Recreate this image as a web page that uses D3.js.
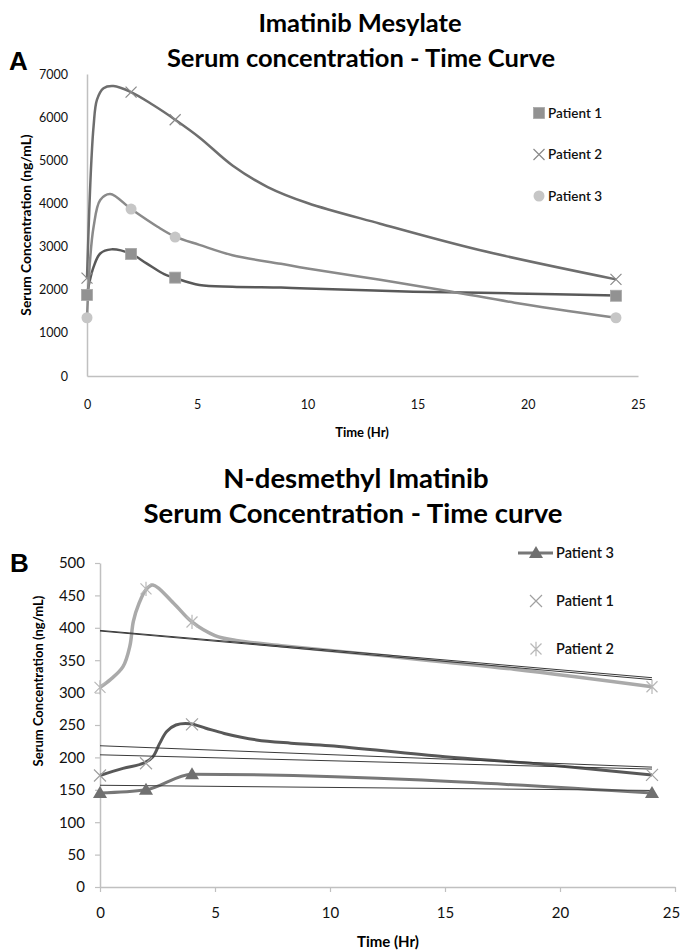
<!DOCTYPE html>
<html>
<head>
<meta charset="utf-8">
<script src="https://d3js.org/d3.v7.min.js"></script>
<style>
body { margin: 0; background: #fff; }
text { font-family: Lato, "Open Sans", sans-serif; }
</style>
</head>
<body>
<div id="chart-area"></div>
<script>
// sampling times (hr) of the measured points
var times = [0, 2, 4, 24];

// panel A - imatinib mesylate (ng/mL), measured points
var imaNames = ["Patient 1", "Patient 2", "Patient 3"];
var imaP1 = [1880, 2830, 2280, 1860];
var imaP2 = [2270, 6580, 5940, 2240];
var imaP3 = [1350, 3870, 3220, 1350];
// fitted curves of panel A
var imaFitT1 = [0, 0.1, 0.3, 0.6, 1.1, 2, 2.7, 3.5, 4, 5.1, 6.6, 8.8, 10, 14.8, 19.4, 24];
var imaFit1 = [1880, 2150, 2530, 2840, 2935, 2830, 2610, 2360, 2270, 2110, 2070, 2050, 2030, 1955, 1915, 1865];
var imaFitT2 = [0, 0.1, 0.2, 0.3, 0.45, 0.75, 1.2, 2, 3, 4, 5.1, 6.6, 8.2, 10, 13.3, 17.8, 24];
var imaFit2 = [2270, 3800, 5000, 5800, 6400, 6670, 6720, 6580, 6280, 5940, 5530, 4880, 4380, 4010, 3530, 2920, 2240];
var imaFitT3 = [0, 0.14, 0.3, 0.6, 1.05, 2, 3.2, 4, 5.1, 6.6, 8.8, 10, 13.3, 16.5, 19.4, 24];
var imaFit3 = [1350, 2690, 3460, 4080, 4220, 3870, 3460, 3230, 3040, 2800, 2600, 2490, 2230, 1960, 1700, 1350];
var imaYTicks = [0, 1000, 2000, 3000, 4000, 5000, 6000, 7000];

// panel B - N-desmethyl imatinib (ng/mL), measured points
var desNames = ["Patient 3", "Patient 1", "Patient 2"];
var desP3 = [145, 150, 174, 145];
var desP1 = [172, 191, 251, 173];
var desP2 = [308, 460, 409, 309];
// fitted curves of panel B
var desFitT1 = [0, 1, 1.9, 2.3, 2.6, 2.9, 3.3, 3.9, 4.6, 5.4, 6.8, 8.3, 10, 15, 19, 24];
var desFit1 = [172, 183, 191, 201, 222, 240, 250, 252, 245, 237, 227, 222, 218, 201, 190, 173];
var desFitT2 = [0, 0.45, 1, 1.3, 1.45, 1.7, 2, 2.3, 3.2, 4, 5, 6, 8, 12, 18, 24];
var desFit2 = [308, 320, 340, 372, 410, 438, 459, 466, 438, 409, 388, 380, 372, 358, 336, 309];
var desYTicks = [0, 50, 100, 150, 200, 250, 300, 350, 400, 450, 500];
// thin trend lines, value at t=0 and t=24
var trendTimes = [0, 24];
var trendTop1 = [396, 323];
var trendTop2 = [395, 320];
var trendMid1 = [218, 185];
var trendMid2 = [204, 182];
var trendLow = [157, 149];

var xTicks = [0, 5, 10, 15, 20, 25];

var svg = d3.select("#chart-area").append("svg")
	.attr("width", 682)
	.attr("height", 952);

var axisCol = "#c0c0c0";

// marker shapes
function crossPath(s) {
	return "M" + (-s) + "," + (-s) + "L" + s + "," + s + "M" + (-s) + "," + s + "L" + s + "," + (-s);
}
function starPath(s) {
	return crossPath(s) + "M0," + (-s * 1.3) + "L0," + (s * 1.3);
}
function pairs(ts, vals) {
	return ts.map((t, i) => { return {t: t, v: vals[i]}; });
}

// ---------------- panel A ----------------
var xA = d3.scaleLinear().domain([0, 25]).range([87, 638]);
var yA = d3.scaleLinear().domain([0, 7000]).range([376, 74]);

svg.append("text").attr("x", 360).attr("y", 32).attr("text-anchor", "middle")
	.attr("font-size", "25.5px").attr("font-weight", "bold").text("Imatinib Mesylate");
svg.append("text").attr("x", 361).attr("y", 67).attr("text-anchor", "middle")
	.attr("font-size", "25.5px").attr("font-weight", "bold").text("Serum concentration - Time Curve");
svg.append("text").attr("x", 9).attr("y", 70)
	.style("font-family", "'Liberation Sans', Arial, sans-serif")
	.attr("font-size", "26px").attr("font-weight", "bold").text("A");

var gA = svg.append("g");
var axA = gA.append("g").attr("transform", "translate(0,376)")
	.call(d3.axisBottom(xA).tickValues(xTicks).tickSize(0).tickPadding(24));
var ayA = gA.append("g").attr("transform", "translate(87,0)")
	.call(d3.axisLeft(yA).tickValues(imaYTicks).tickFormat(d3.format("d")).tickSize(0).tickPadding(19));
[axA, ayA].forEach((a) => {
	a.select(".domain").attr("stroke", axisCol).attr("stroke-width", 1.5);
	a.selectAll("text").attr("font-size", "12.5px").attr("fill", "#111")
		.style("font-family", "Lato, sans-serif");
});

gA.append("text").attr("x", 362).attr("y", 437).attr("text-anchor", "middle")
	.attr("font-size", "13px").attr("font-weight", "bold").text("Time (Hr)");
gA.append("text").attr("transform", "translate(31,225) rotate(-90)").attr("text-anchor", "middle")
	.attr("font-size", "13.8px").attr("font-weight", "bold").text("Serum Concentration (ng/mL)");

var lineA = d3.line().x((d) => xA(d.t)).y((d) => yA(d.v)).curve(d3.curveCatmullRom.alpha(0.5));

var seriesA = [
	{vals: imaP1, ft: imaFitT1, fv: imaFit1, line: "#595959", mark: "#929292", shape: "square"},
	{vals: imaP2, ft: imaFitT2, fv: imaFit2, line: "#6e6e6e", mark: "#8a8a8a", shape: "cross"},
	{vals: imaP3, ft: imaFitT3, fv: imaFit3, line: "#8a8a8a", mark: "#c6c6c6", shape: "circle"}
];

seriesA.forEach((s) => {
	gA.append("path").datum(pairs(s.ft, s.fv))
		.attr("d", lineA).attr("fill", "none")
		.attr("stroke", s.line).attr("stroke-width", 2.5);
});
function drawMarkA(g, s, x, y) {
	if (s.shape == "square") {
		g.append("rect").attr("x", x - 5.5).attr("y", y - 5.5).attr("width", 11).attr("height", 11)
			.attr("fill", s.mark).attr("stroke", "#a8a8a8").attr("stroke-width", 0.8);
	} else if (s.shape == "circle") {
		g.append("circle").attr("cx", x).attr("cy", y).attr("r", 5.5).attr("fill", s.mark);
	} else {
		g.append("path").attr("transform", "translate(" + x + "," + y + ")")
			.attr("d", crossPath(5.5)).attr("stroke", s.mark).attr("stroke-width", 1.2).attr("fill", "none");
	}
}
seriesA.forEach((s) => {
	pairs(times, s.vals).forEach((d) => { drawMarkA(gA, s, xA(d.t), yA(d.v)); });
});
// legend A
imaNames.forEach((n, i) => {
	var ly = 113 + i * 41.5;
	drawMarkA(gA, seriesA[i], 539, ly);
	gA.append("text").attr("x", 548).attr("y", ly + 4.5)
		.attr("font-size", "13.5px").attr("font-weight", "600").attr("fill", "#111").text(n);
});

// ---------------- panel B ----------------
var xB = d3.scaleLinear().domain([0, 25]).range([100, 675]);
var yB = d3.scaleLinear().domain([0, 500]).range([887, 563]);

svg.append("text").attr("x", 356).attr("y", 488).attr("text-anchor", "middle")
	.attr("font-size", "27.5px").attr("font-weight", "bold").text("N-desmethyl Imatinib");
svg.append("text").attr("x", 353).attr("y", 523).attr("text-anchor", "middle")
	.attr("font-size", "27.5px").attr("font-weight", "bold").text("Serum Concentration - Time curve");
svg.append("text").attr("x", 10).attr("y", 572)
	.style("font-family", "'Liberation Sans', Arial, sans-serif")
	.attr("font-size", "26px").attr("font-weight", "bold").text("B");

var gB = svg.append("g");
var axB = gB.append("g").attr("transform", "translate(0,887)")
	.call(d3.axisBottom(xB).tickValues(xTicks).tickSizeInner(5).tickSizeOuter(0).tickPadding(15));
var ayB = gB.append("g").attr("transform", "translate(100,0)")
	.call(d3.axisLeft(yB).tickValues(desYTicks).tickSizeInner(5).tickSizeOuter(0).tickPadding(10));
[axB, ayB].forEach((a) => {
	a.select(".domain").attr("stroke", axisCol).attr("stroke-width", 1.5);
	a.selectAll(".tick line").attr("stroke", axisCol).attr("stroke-width", 1.2);
	a.selectAll("text").attr("font-size", "15px").attr("fill", "#111")
		.style("font-family", "Lato, sans-serif");
});
// keep the last x label inside the page
axB.selectAll(".tick text").filter((d) => d == 25).attr("dx", "-4");

gB.append("text").attr("x", 388).attr("y", 947).attr("text-anchor", "middle")
	.attr("font-size", "15px").attr("font-weight", "bold").text("Time (Hr)");
gB.append("text").attr("transform", "translate(43,681) rotate(-90)").attr("text-anchor", "middle")
	.attr("font-size", "13px").attr("font-weight", "bold").text("Serum Concentration (ng/mL)");

var fitB = d3.line().x((d) => xB(d.t)).y((d) => yB(d.v)).curve(d3.curveCatmullRom.alpha(0.5));
var smoothB = d3.line().x((d) => xB(d.t)).y((d) => yB(d.v)).curve(d3.curveMonotoneX);
var trendLine = d3.line().x((d) => xB(d.t)).y((d) => yB(d.v));

var seriesB = [
	{vals: desP3, ft: times, fv: desP3, gen: smoothB, line: "#777777", mark: "#707070", shape: "triangle", w: 3},
	{vals: desP1, ft: desFitT1, fv: desFit1, gen: fitB, line: "#585858", mark: "#a0a0a0", shape: "cross", w: 3},
	{vals: desP2, ft: desFitT2, fv: desFit2, gen: fitB, line: "#aaaaaa", mark: "#b8b8b8", shape: "star", w: 3.5}
];

seriesB.forEach((s) => {
	gB.append("path").datum(pairs(s.ft, s.fv))
		.attr("d", s.gen).attr("fill", "none")
		.attr("stroke", s.line).attr("stroke-width", s.w);
});
[trendTop1, trendTop2, trendMid1, trendMid2, trendLow].forEach((tv) => {
	gB.append("path").datum(pairs(trendTimes, tv))
		.attr("d", trendLine).attr("fill", "none")
		.attr("stroke", "#3a3a3a").attr("stroke-width", 1);
});
function drawMarkB(g, s, x, y) {
	if (s.shape == "triangle") {
		g.append("path").attr("transform", "translate(" + x + "," + y + ")")
			.attr("d", "M0,-7L7,5L-7,5Z").attr("fill", s.mark);
	} else if (s.shape == "cross") {
		g.append("path").attr("transform", "translate(" + x + "," + y + ")")
			.attr("d", crossPath(6)).attr("stroke", s.mark).attr("stroke-width", 1.2).attr("fill", "none");
	} else {
		g.append("path").attr("transform", "translate(" + x + "," + y + ")")
			.attr("d", starPath(5.5)).attr("stroke", s.mark).attr("stroke-width", 1.2).attr("fill", "none");
	}
}
seriesB.forEach((s) => {
	pairs(times, s.vals).forEach((d) => { drawMarkB(gB, s, xB(d.t), yB(d.v)); });
});
// legend B
desNames.forEach((n, i) => {
	var ly = 553 + i * 48;
	if (i == 0) {
		gB.append("line").attr("x1", 518).attr("x2", 553).attr("y1", ly).attr("y2", ly)
			.attr("stroke", seriesB[0].line).attr("stroke-width", 3);
	}
	drawMarkB(gB, seriesB[i], 536, ly);
	gB.append("text").attr("x", 556).attr("y", ly + 5)
		.attr("font-size", "14.5px").attr("font-weight", "600").attr("fill", "#111").text(n);
});
</script>
</body>
</html>
